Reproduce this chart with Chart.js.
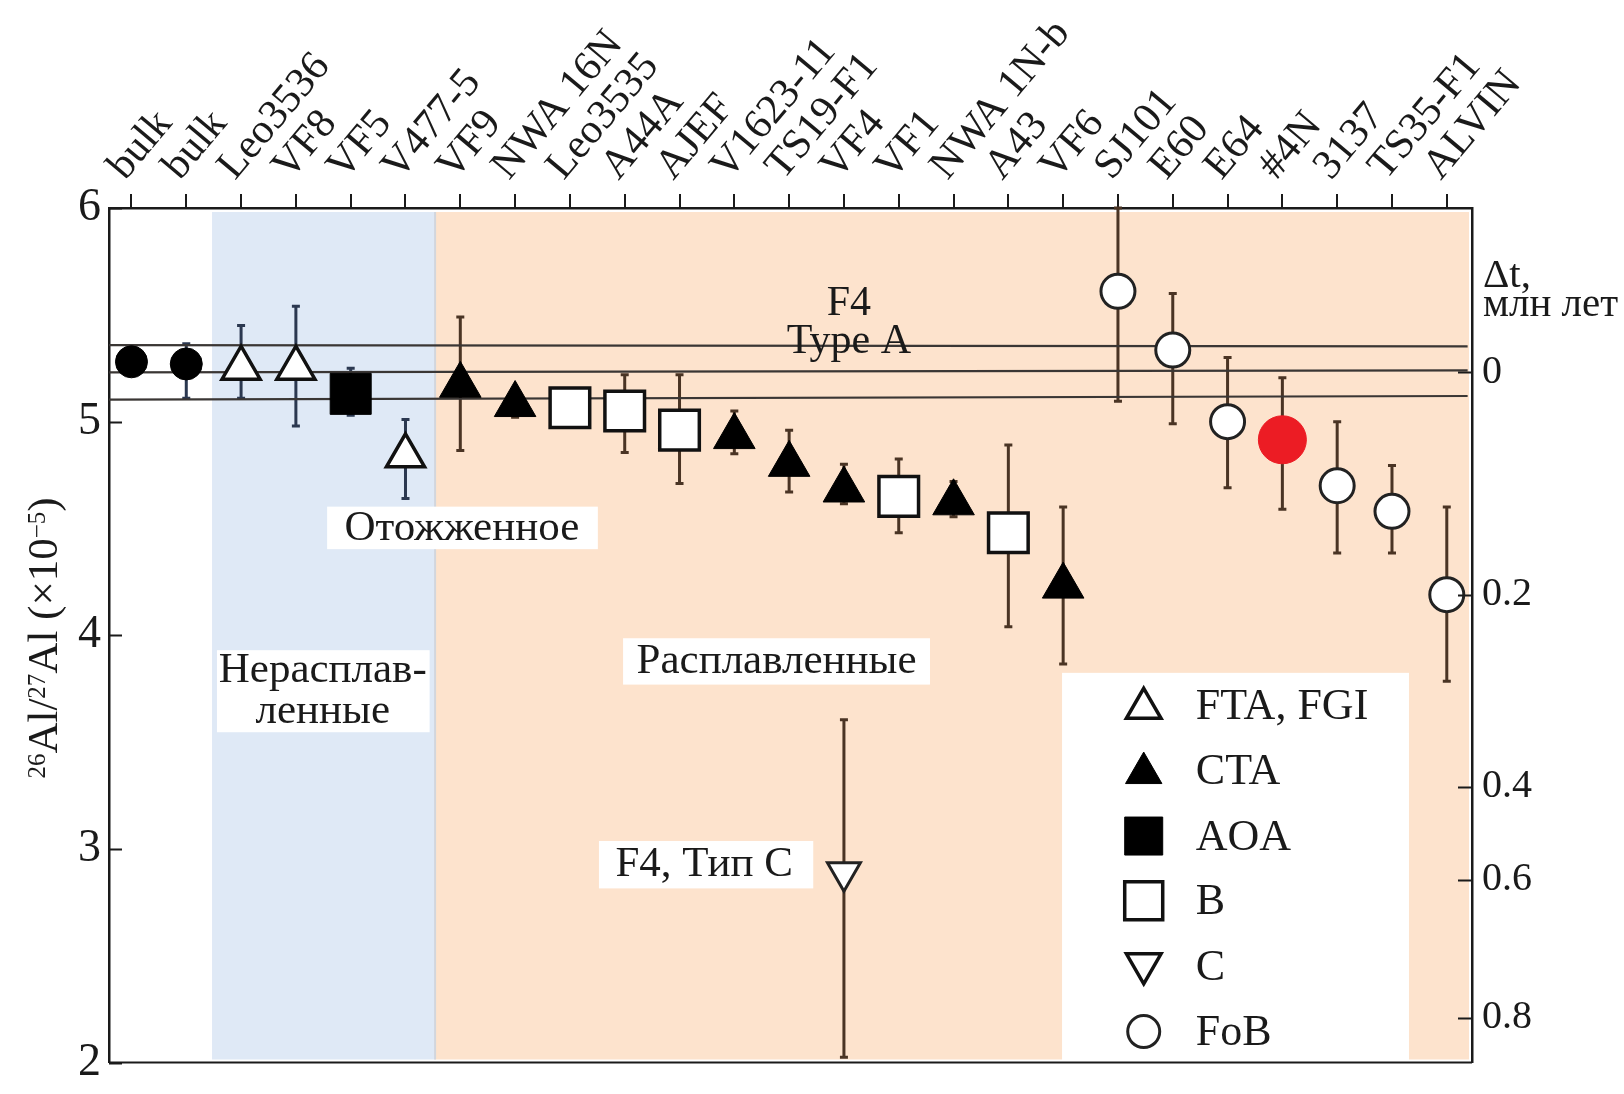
<!DOCTYPE html>
<html>
<head>
<meta charset="utf-8">
<script src="https://cdn.jsdelivr.net/npm/chart.js@4.4.0/dist/chart.umd.min.js"></script>
<style>
  html, body { margin: 0; padding: 0; background: #fff; }
  #mycanvas { display: block; }
</style>
</head>
<body>
<canvas id="mycanvas" width="1624" height="1094"></canvas>
<script>
// --- data ---
var samples = ['bulk', 'bulk', 'Leo3536', 'VF8', 'VF5', 'V477-5', 'VF9', 'NWA 16N', 'Leo3535', 'A44A',
  'AJEF', 'V1623-11', 'TS19-F1', 'VF4', 'VF1', 'NWA 1N-b', 'A43', 'VF6', 'SJ101', 'E60',
  'E64', '#4N', '3137', 'TS35-F1', 'ALVIN'];
var kinds = ['bulk', 'bulk', 'FTA', 'FTA', 'AOA', 'FTA', 'CTA', 'CTA', 'B', 'B',
  'B', 'CTA', 'CTA', 'CTA', 'B', 'CTA', 'B', 'CTA', 'FoB', 'FoB',
  'FoB', 'red', 'FoB', 'FoB', 'FoB'];
var ratio = [5.28, 5.27, 5.25, 5.25, 5.13, 4.84, 5.17, 5.08, 5.065, 5.05,
  4.96, 4.93, 4.80, 4.68, 4.65, 4.62, 4.48, 4.23, 5.61, 5.335,
  5.00, 4.915, 4.70, 4.58, 4.19];
var errHigh = [null, 5.365, 5.45, 5.54, 5.25, 5.01, 5.49, 5.12, null, 5.22,
  5.22, 5.05, 4.96, 4.80, 4.825, 4.72, 4.89, 4.60, 6.0, 5.60,
  5.30, 5.205, 5.00, 4.795, 4.60];
var errLow = [null, 5.11, 5.11, 4.98, 5.03, 4.64, 4.865, 5.02, null, 4.855,
  4.71, 4.85, 4.67, 4.615, 4.48, 4.555, 4.04, 3.865, 5.095, 4.99,
  4.69, 4.59, 4.385, 4.385, 3.785];
// F4 type C inclusion (plotted in the VF4 column)
var typeCCol = [13];
var typeCRatio = [2.89];
var typeCHigh = [3.605];
var typeCLow = [2.025];
// right axis: delta t, Myr
var dtLabels = ['0', '0.2', '0.4', '0.6', '0.8'];
var dtRatio = [5.23, 4.19, 3.29, 2.855, 2.21];
// F4 type A reference lines (left end, right end)
var refStart = [5.358, 5.231, 5.103];
var refEnd = [5.352, 5.24, 5.12];
var legendKinds = ['FTA', 'CTA', 'AOA', 'B', 'C', 'FoB'];
var legendNames = ['FTA, FGI', 'CTA', 'AOA', 'B', 'C', 'FoB'];

var X_MIN = -0.41, X_MAX = 24.46;
var SERIF = '"Liberation Serif", "DejaVu Serif", serif';

var looks = {
  bulk: { pointStyle: 'circle', r: 16, bg: '#000', bd: '#000', bw: 1 },
  FTA: { pointStyle: 'triangle', r: 22, bg: '#fff', bd: '#111', bw: 3.5 },
  CTA: { pointStyle: 'triangle', r: 24, bg: '#000', bd: '#000', bw: 1 },
  AOA: { pointStyle: 'rect', r: 29, bg: '#000', bd: '#000', bw: 1 },
  B: { pointStyle: 'rect', r: 28, bg: '#fff', bd: '#111', bw: 3.5 },
  FoB: { pointStyle: 'circle', r: 17, bg: '#fff', bd: '#222', bw: 3 },
  red: { pointStyle: 'circle', r: 24, bg: '#ec1c24', bd: '#ec1c24', bw: 1 }
};

var datasets = [];
['red', 'FoB', 'CTA', 'AOA', 'B', 'FTA', 'bulk'].forEach(function (k) {
  var pts = [];
  for (var i = 0; i < samples.length; i++) {
    if (kinds[i] === k) pts.push({ x: i, y: ratio[i] });
  }
  var st = looks[k];
  datasets.push({
    type: 'scatter', label: k, data: pts,
    pointStyle: st.pointStyle, pointRadius: st.r, pointHoverRadius: st.r,
    backgroundColor: st.bg, borderColor: st.bd, borderWidth: st.bw
  });
});
datasets.push({
  type: 'scatter', label: 'C',
  data: typeCCol.map(function (c, i) { return { x: c, y: typeCRatio[i] }; }),
  pointStyle: 'triangle', rotation: 180, pointRadius: 19, pointHoverRadius: 19,
  backgroundColor: '#fff', borderColor: '#222', borderWidth: 3
});
for (var j = 0; j < refStart.length; j++) {
  datasets.push({
    type: 'line', label: 'ref' + j,
    data: [{ x: X_MIN, y: refStart[j] }, { x: X_MAX - 0.08, y: refEnd[j] }],
    borderColor: '#3a3634', borderWidth: 2.2, pointRadius: 0, fill: false
  });
}

function bar(ctx, x, yTop, yBot, color) {
  ctx.strokeStyle = color;
  ctx.lineWidth = 3;
  ctx.beginPath();
  ctx.moveTo(x, yTop); ctx.lineTo(x, yBot);
  ctx.moveTo(x - 4, yTop); ctx.lineTo(x + 4, yTop);
  ctx.moveTo(x - 4, yBot); ctx.lineTo(x + 4, yBot);
  ctx.stroke();
}

function shape(ctx, kind, x, y, r, fill, stroke, lw) {
  ctx.beginPath();
  if (kind === 'circle') {
    ctx.arc(x, y, r, 0, Math.PI * 2);
  } else if (kind === 'up' || kind === 'down') {
    var s = kind === 'down' ? -1 : 1;
    ctx.moveTo(x, y - s * r);
    ctx.lineTo(x + r * 0.866, y + s * r * 0.5);
    ctx.lineTo(x - r * 0.866, y + s * r * 0.5);
    ctx.closePath();
  } else {
    ctx.rect(x - r, y - r, 2 * r, 2 * r);
  }
  ctx.fillStyle = fill;
  ctx.fill();
  if (lw) { ctx.lineWidth = lw; ctx.strokeStyle = stroke; ctx.stroke(); }
}

function whiteBox(ctx, sx, sy, x0, x1, y0, y1) {
  var px0 = sx.getPixelForValue(x0), px1 = sx.getPixelForValue(x1);
  var py0 = sy.getPixelForValue(y0), py1 = sy.getPixelForValue(y1);
  ctx.fillStyle = '#fff';
  ctx.fillRect(px0, py0, px1 - px0, py1 - py0);
}

function label(ctx, sx, sy, txt, x, y, size) {
  ctx.font = size + 'px ' + SERIF;
  ctx.fillStyle = '#1a1a1a';
  ctx.textAlign = 'center';
  ctx.textBaseline = 'middle';
  ctx.fillText(txt, sx.getPixelForValue(x), sy.getPixelForValue(y));
}

function noPad(s) { s.paddingTop = 0; s.paddingBottom = 0; }

var figurePlugin = {
  id: 'figure',
  beforeDatasetsDraw: function (chart) {
    var ctx = chart.ctx, a = chart.chartArea, sx = chart.scales.x, sy = chart.scales.y;
    ctx.save();
    // unmelted / melted bands
    var b0 = sx.getPixelForValue(1.47), b1 = sx.getPixelForValue(5.54);
    ctx.fillStyle = '#dfe9f6';
    ctx.fillRect(b0, a.top + 4, b1 - b0, a.bottom - a.top - 7);
    ctx.fillStyle = '#fde3cd';
    ctx.fillRect(b1, a.top + 4, a.right - 3 - b1, a.bottom - a.top - 7);
    ctx.fillStyle = '#d2d6dc';
    ctx.fillRect(b1 - 1, a.top + 4, 2, a.bottom - a.top - 7);
    // error bars
    for (var i = 0; i < samples.length; i++) {
      if (errHigh[i] === null) continue;
      var col = i < 6 ? '#2b3850' : '#4a3424';
      bar(ctx, sx.getPixelForValue(i), sy.getPixelForValue(errHigh[i]), sy.getPixelForValue(errLow[i]), col);
    }
    for (var k = 0; k < typeCCol.length; k++) {
      bar(ctx, sx.getPixelForValue(typeCCol[k]), sy.getPixelForValue(typeCHigh[k]), sy.getPixelForValue(typeCLow[k]), '#4a3424');
    }
    ctx.restore();
  },
  afterDatasetsDraw: function (chart) {
    var ctx = chart.ctx, a = chart.chartArea, sx = chart.scales.x, sy = chart.scales.y;
    ctx.save();
    label(ctx, sx, sy, 'F4', 13.09, 5.55, 42);
    label(ctx, sx, sy, 'Type A', 13.09, 5.375, 42);

    whiteBox(ctx, sx, sy, 3.57, 8.51, 4.602, 4.403);
    label(ctx, sx, sy, 'Отожженное', 6.03, 4.50, 43);

    whiteBox(ctx, sx, sy, 1.56, 5.44, 3.93, 3.546);
    label(ctx, sx, sy, 'Нерасплав-', 3.49, 3.835, 43);
    label(ctx, sx, sy, 'ленные', 3.49, 3.64, 43);

    whiteBox(ctx, sx, sy, 8.97, 14.57, 3.986, 3.769);
    label(ctx, sx, sy, 'Расплавленные', 11.77, 3.875, 43);

    whiteBox(ctx, sx, sy, 8.53, 12.44, 3.037, 2.815);
    label(ctx, sx, sy, 'F4, Тип C', 10.45, 2.925, 43);

    // legend
    whiteBox(ctx, sx, sy, 16.98, 23.31, 3.824, 2.01);
    var lx = sx.getPixelForValue(18.47), tx = sx.getPixelForValue(19.42);
    var rowY = [3.672, 3.369, 3.06, 2.757, 2.448, 2.145];
    for (var i = 0; i < legendKinds.length; i++) {
      var py = sy.getPixelForValue(rowY[i]);
      var k = legendKinds[i];
      if (k === 'FTA') shape(ctx, 'up', lx, py + 3, 20, '#fff', '#111', 3.5);
      if (k === 'CTA') shape(ctx, 'up', lx, py + 3, 21, '#000', '#000', 1);
      if (k === 'AOA') shape(ctx, 'rect', lx, py, 19, '#000', '#000', 1);
      if (k === 'B') shape(ctx, 'rect', lx, py, 19, '#fff', '#111', 3.5);
      if (k === 'C') shape(ctx, 'down', lx, py - 3, 20, '#fff', '#111', 3.5);
      if (k === 'FoB') shape(ctx, 'circle', lx, py, 16, '#fff', '#222', 3);
      ctx.font = '44px ' + SERIF;
      ctx.fillStyle = '#1a1a1a';
      ctx.textAlign = 'left';
      ctx.textBaseline = 'middle';
      ctx.fillText(legendNames[i], tx, py + 2);
    }
    ctx.restore();
  },
  afterDraw: function (chart) {
    var ctx = chart.ctx, a = chart.chartArea, sy = chart.scales.y, sy2 = chart.scales.y2;
    ctx.save();
    ctx.strokeStyle = '#1a1a1a';
    ctx.lineWidth = 2;
    ctx.beginPath();
    for (var v = 2; v <= 6; v++) {
      var p = Math.round(sy.getPixelForValue(v)) + 0.5;
      ctx.moveTo(a.left, p); ctx.lineTo(a.left + 13, p);
    }
    dtRatio.forEach(function (r) {
      var q = Math.round(sy2.getPixelForValue(r)) + 0.5;
      ctx.moveTo(a.right - 14, q); ctx.lineTo(a.right, q);
    });
    // bottom frame line
    ctx.moveTo(a.left, a.bottom); ctx.lineTo(a.right, a.bottom);
    ctx.stroke();

    // right axis title
    ctx.fillStyle = '#1a1a1a';
    ctx.font = '41px ' + SERIF;
    ctx.textAlign = 'left';
    ctx.textBaseline = 'middle';
    ctx.fillText('Δt,', a.right + 11, 276);
    ctx.fillText('млн лет', a.right + 11, 305);

    // left axis title with superscripts
    var parts = [['26', 25, -12], ['Al/', 43, 0], ['27', 25, -12], ['Al (×10', 43, 0], ['−5', 25, -12], [')', 43, 0]];
    var total = 0;
    parts.forEach(function (pt) { ctx.font = pt[1] + 'px ' + SERIF; total += ctx.measureText(pt[0]).width; });
    ctx.translate(44, 638);
    ctx.rotate(-Math.PI / 2);
    var cx = -total / 2;
    ctx.textAlign = 'left';
    ctx.textBaseline = 'alphabetic';
    parts.forEach(function (pt) {
      ctx.font = pt[1] + 'px ' + SERIF;
      ctx.fillText(pt[0], cx, 13 + pt[2]);
      cx += ctx.measureText(pt[0]).width;
    });
    ctx.restore();
  }
};

var ctx = document.getElementById('mycanvas');
var chart = new Chart(ctx, {
  type: 'scatter',
  data: { datasets: datasets },
  options: {
    responsive: false,
    animation: false,
    devicePixelRatio: 1,
    layout: { padding: { top: 0, left: 0, right: 0, bottom: 14 } },
    plugins: { legend: { display: false }, tooltip: { enabled: false } },
    scales: {
      x: {
        type: 'linear', position: 'top', min: X_MIN, max: X_MAX,
        afterFit: function (s) { s.height = 208; },
        afterBuildTicks: function (s) { s.ticks = samples.map(function (_, i) { return { value: i }; }); },
        ticks: {
          autoSkip: false, minRotation: 50, maxRotation: 50, padding: 4, labelOffset: 24,
          color: '#1a1a1a', font: { family: SERIF, size: 42 },
          callback: function (v) { return samples[v]; }
        },
        grid: { drawOnChartArea: false, drawTicks: true, tickLength: 14, color: '#1a1a1a', lineWidth: 2 },
        border: { display: true, color: '#1a1a1a', width: 2.5 }
      },
      y: {
        type: 'linear', position: 'left', min: 2, max: 6,
        afterFit: function (s) { s.width = 109; noPad(s); },
        ticks: { stepSize: 1, padding: 8, color: '#1a1a1a', font: { family: SERIF, size: 46 } },
        grid: { display: false, drawTicks: false },
        border: { display: true, color: '#1a1a1a', width: 2.5 }
      },
      y2: {
        type: 'linear', position: 'right', min: 2, max: 6,
        afterFit: function (s) { s.width = 152; noPad(s); },
        afterBuildTicks: function (s) { s.ticks = dtRatio.map(function (r) { return { value: r }; }); },
        ticks: {
          autoSkip: false, padding: 10, color: '#1a1a1a', font: { family: SERIF, size: 40 },
          callback: function (v, i) { return dtLabels[i]; }
        },
        grid: { display: false, drawTicks: false },
        border: { display: true, color: '#1a1a1a', width: 2.5 }
      }
    }
  },
  plugins: [figurePlugin]
});
</script>
</body>
</html>
